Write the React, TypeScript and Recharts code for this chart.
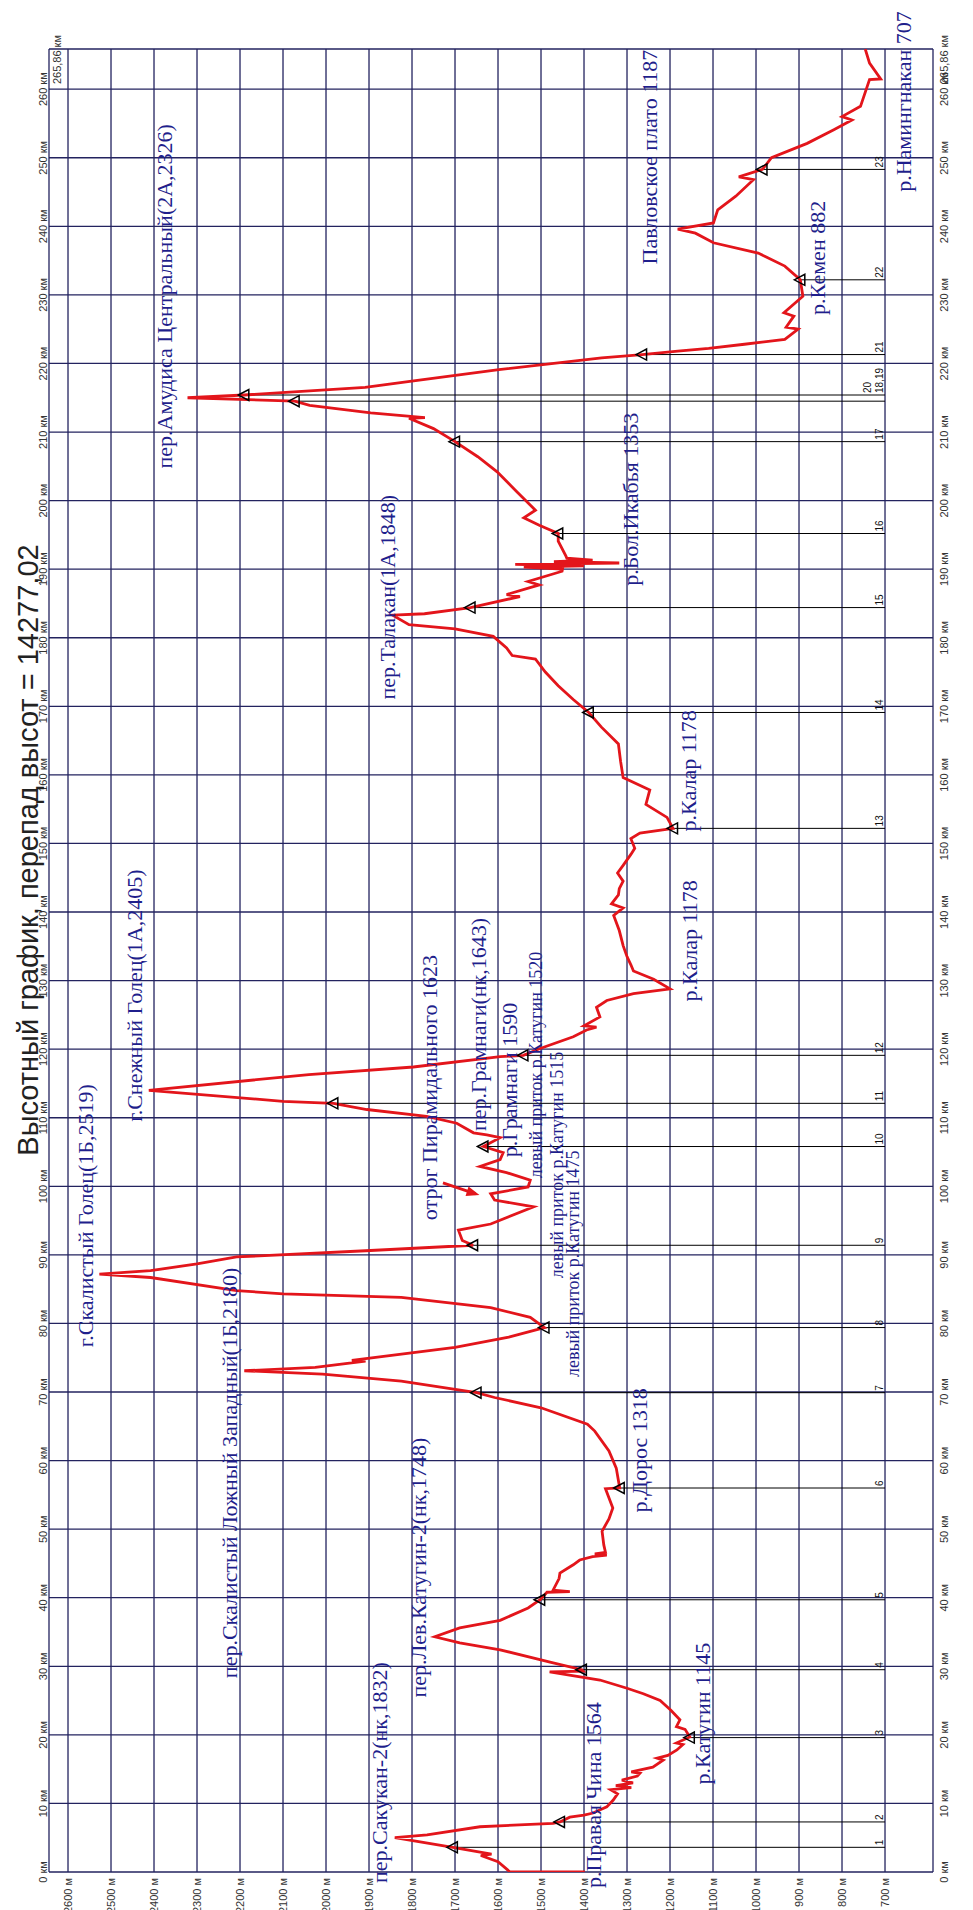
import React from 'react';
import {
  ComposedChart,
  Line,
  XAxis,
  YAxis,
  CartesianGrid,
  ReferenceLine,
  ReferenceDot,
} from 'recharts';

// track profile: [distance km, elevation m]
const profile: [number, number][] = [
  [0, 1398], [0, 1572], [1.5, 1600], [2.4, 1640], [2.6, 1615], [3.6, 1705], [5.0, 1840], [5.4, 1765],
  [6.6, 1642], [7.1, 1472], [7.3, 1456], [8.0, 1433], [8.3, 1400], [8.6, 1379], [9.5, 1347],
  [10.5, 1332], [11.4, 1322], [12.0, 1338], [12.3, 1290], [12.6, 1326], [13.0, 1286], [13.4, 1312],
  [14.0, 1276], [14.4, 1270], [14.6, 1290], [15.3, 1240], [16.3, 1216], [16.6, 1230], [17.0, 1205],
  [17.8, 1184], [18.6, 1170], [18.8, 1185], [19.7, 1154], [20.8, 1165], [21.2, 1185], [22.2, 1177],
  [23.6, 1198], [25.0, 1223], [26.0, 1262], [26.8, 1300], [28.0, 1363], [29.2, 1480], [29.3, 1402],
  [29.5, 1405], [30.6, 1479], [32.4, 1595], [33.4, 1689], [34.3, 1747], [35.6, 1689], [36.7, 1595],
  [38.5, 1530], [39.7, 1502], [40.8, 1486], [40.9, 1433], [41.1, 1472], [42.8, 1458], [43.6, 1456],
  [44.8, 1425], [45.5, 1410], [46.0, 1380], [46.2, 1347], [46.4, 1375], [46.6, 1350], [47.7, 1354],
  [49.7, 1358], [51.5, 1342], [53.1, 1333], [55.9, 1350], [56.0, 1317], [58.9, 1325], [61.4, 1342],
  [64.3, 1375], [65.3, 1392], [67.7, 1500], [69.2, 1608], [69.9, 1650], [71.6, 1825], [72.6, 2008],
  [73.1, 2190], [73.6, 2025], [74.5, 1908], [74.6, 1940], [76.5, 1700], [78.0, 1575], [79.4, 1492],
  [80.9, 1525], [82.3, 1617], [83.8, 1825], [84.3, 2100], [84.8, 2208], [86.7, 2408], [87.2, 2527],
  [87.7, 2408], [88.7, 2300], [89.7, 2208], [90.6, 1908], [91.4, 1658], [92.1, 1683], [93.6, 1692],
  [94.5, 1617], [97.0, 1517], [98.0, 1608], [98.9, 1617], [99.9, 1530], [100.9, 1525], [102.0, 1580],
  [102.9, 1642], [103.9, 1595], [104.9, 1588], [105.8, 1634], [107.1, 1595], [107.5, 1626],
  [107.8, 1657], [109.2, 1696], [110.2, 1766], [111.2, 1905], [112.1, 1983], [112.4, 2100],
  [114.0, 2412], [116.3, 2040], [117.4, 1797], [118.9, 1595], [119.1, 1541], [120.1, 1502],
  [121.8, 1425], [122.8, 1394], [123.2, 1371], [123.4, 1400], [124.7, 1363], [126.1, 1371],
  [127.1, 1347], [128.1, 1285], [128.8, 1200], [130.2, 1238], [131.4, 1285], [132.3, 1291],
  [133.5, 1300], [135.1, 1309], [137.3, 1318], [139.5, 1331], [140.6, 1309], [141.2, 1336],
  [142.5, 1320], [143.4, 1318], [144.5, 1309], [145.7, 1322], [146.8, 1309], [148.4, 1291],
  [149.3, 1282], [150.7, 1291], [151.5, 1270], [152.2, 1193], [153.8, 1207], [155.7, 1256],
  [157.8, 1247], [159.6, 1309], [162.0, 1315], [164.5, 1320], [167.0, 1360], [169.1, 1389],
  [171.0, 1425], [173.0, 1460], [175.0, 1490], [176.9, 1513], [177.4, 1567], [178.5, 1580],
  [180.2, 1611], [181.3, 1700], [181.9, 1807], [183.3, 1845], [183.5, 1771], [184.4, 1664],
  [186.0, 1549], [186.3, 1580], [187.7, 1504], [188.2, 1530], [189.7, 1451], [190.0, 1450],
  [190.3, 1540], [190.5, 1400], [190.7, 1560], [190.9, 1318], [191.1, 1470], [191.3, 1380],
  [191.6, 1440], [191.9, 1442], [194.1, 1460], [195.2, 1460], [196.4, 1504], [197.5, 1540],
  [198.6, 1513], [201.4, 1558], [204.2, 1602], [206.4, 1647], [208.6, 1700], [210.5, 1750],
  [212.0, 1807], [212.1, 1770], [212.8, 1896], [213.9, 2038], [214.5, 2073], [215.0, 2322],
  [215.4, 2190], [216.5, 1909], [217.4, 1805], [219.1, 1598], [220.8, 1359], [221.3, 1265],
  [221.8, 1182], [222.2, 1110], [222.8, 1027], [223.5, 933], [225.0, 902], [225.3, 930],
  [226.9, 912], [227.4, 935], [229.8, 891], [232.2, 897], [234.2, 933], [236.1, 995], [237.6, 1099],
  [239.0, 1141], [239.6, 1182], [240.5, 1099], [242.4, 1089], [244.4, 1047], [246.8, 1006],
  [247.2, 1040], [248.3, 985], [250.0, 964], [252.1, 881], [254.1, 819], [255.5, 777], [256.0, 800],
  [257.5, 757], [261.4, 736], [261.5, 710], [263.8, 736], [265.86, 746],
];

// checkpoints along the track
const checkpointNames = ['1', '2', '3', '4', '5', '6', '7', '8', '9', '10', '11', '12', '13', '14', '15', '16', '17', '18,19', '20', '21', '22', '23'];
const checkpointKm = [3.6, 7.3, 19.6, 29.5, 39.7, 56.0, 69.9, 79.4, 91.4, 105.8, 112.1, 119.1, 152.2, 169.1, 184.4, 195.2, 208.6, 214.5, 215.4, 221.3, 232.2, 248.3];
const checkpointElev = [1705, 1456, 1154, 1405, 1502, 1317, 1650, 1492, 1658, 1634, 1983, 1541, 1193, 1389, 1664, 1460, 1700, 2073, 2190, 1265, 897, 985];

// place names: [text, km, elevation]
const placeNotes: [string, number, number][] = [
  ['пер.Сакукан-2(нк,1832)', 14.5, 1857],
  ['р.Правая Чина 1564', 11.2, 1361],
  ['р.Катугин 1145', 23.1, 1106],
  ['пер.Лев.Катугин-2(нк,1748)', 44.4, 1767],
  ['р.Дорос 1318', 61.5, 1254],
  ['пер.Скалистый Ложный Западный(1Б,2180)', 58.2, 2208],
  ['г.Скалистый Голец(1Б,2519)', 95.7, 2543],
  ['г.Снежный Голец(1А,2405)', 127.8, 2428],
  ['отрог Пирамидального 1623', 114.4, 1743],
  ['пер.Грамнаги(нк,1643)', 123.6, 1629],
  ['р.Грамнаги 1590', 115.5, 1555],
  ['р.Калар 1178', 135.8, 1138],
  ['р.Калар 1178', 160.6, 1140],
  ['пер.Талакан(1А,1848)', 185.9, 1840],
  ['р.Бол.Икабья 1353', 200.2, 1275],
  ['пер.Амудиса Центральный(2А,2326)', 229.8, 2358],
  ['Павловское плато 1187', 250.1, 1230],
  ['р.Кемен 882', 235.4, 840],
  ['р.Намингнакан 707', 258.2, 640],
];

const tributaryNotes: [string, number, number][] = [
  ['левый приток р.Катугин 1520', 117.7, 1497],
  ['левый приток р.Катугин 1515', 103.1, 1450],
  ['левый приток р.Катугин 1475', 88.7, 1412],
];

// arrow from "отрог Пирамидального" to the track
const arrow: [number, number][] = [[100.5, 1728], [98.9, 1652]];

const distanceTicks = [0, 10, 20, 30, 40, 50, 60, 70, 80, 90, 100, 110, 120, 130, 140, 150, 160, 170, 180, 190, 200, 210, 220, 230, 240, 250, 260, 265.86];
const elevationTicks = [700, 800, 900, 1000, 1100, 1200, 1300, 1400, 1500, 1600, 1700, 1800, 1900, 2000, 2100, 2200, 2300, 2400, 2500, 2600];

const W = 1910;
const H = 973;
const GRID = '#23235f';
const NOTE = '#1f1f8c';
const RED = '#e3151b';
const SANS = "'Liberation Sans', Arial, sans-serif";
const SERIF = "'Liberation Serif', 'Times New Roman', serif";

const profileData = profile.map(([km, elev]) => ({ km, elev }));
const arrowData = arrow.map(([km, elev]) => ({ km, elev }));

function KmTick(props: any) {
  const { x, payload, side } = props;
  const v = payload.value as number;
  const last = v > 265;
  const label = last ? '265,86 км' : `${v} км`;
  const y = side === 'top' ? (last ? 61 : 47) : 948;
  return (
    <text x={last ? x + 14 : x} y={y} textAnchor={last ? 'end' : 'middle'} fontSize={11} fontFamily={SANS} fill="#333">
      {label}
    </text>
  );
}

function ElevTick(props: any) {
  const { y, payload } = props;
  return (
    <text x={32} y={y + 4} textAnchor="end" fontSize={11} fontFamily={SANS} fill="#333">
      {`${payload.value} м`}
    </text>
  );
}

const triangle = (p: any) => (
  <path
    d={`M${p.cx},${p.cy - 6} L${p.cx + 5.5},${p.cy + 4.5} L${p.cx - 5.5},${p.cy + 4.5} Z`}
    fill="none"
    stroke="#000"
    strokeWidth={1.5}
  />
);

const checkpointLabel = (text: string, lift: number) => (p: any) => (
  <text x={p.cx + 2} y={p.cy - 2 - lift} fontSize={10} fontFamily={SANS} fill="#111">
    {text}
  </text>
);

const noteLabel = (text: string, size: number) => (p: any) => (
  <text x={p.cx} y={p.cy} textAnchor="middle" fontSize={size} fontFamily={SERIF} fill={NOTE}>
    {text}
  </text>
);

const arrowHead = (p: any) => {
  const ux = -0.294;
  const uy = 0.956;
  const nx = 0.956;
  const ny = 0.294;
  const tx = p.cx + ux * 4;
  const ty = p.cy + uy * 4;
  const bx = tx - ux * 13;
  const by = ty - uy * 13;
  return <path d={`M${tx},${ty} L${bx + nx * 5},${by + ny * 5} L${bx - nx * 5},${by - ny * 5} Z`} fill={RED} />;
};

export default function App() {
  return (
    <div style={{ position: 'absolute', left: 0, top: 0, width: H, height: W, overflow: 'hidden', background: '#fff' }}>
      <div
        style={{
          position: 'absolute',
          left: 0,
          top: 0,
          width: W,
          height: H,
          transformOrigin: '0 0',
          transform: `translateY(${W}px) rotate(-90deg)`,
        }}
      >
        <ComposedChart width={W} height={H} margin={{ top: 19, right: 49, bottom: 10, left: 0 }}>
          <CartesianGrid stroke={GRID} strokeWidth={1.3} />
          <XAxis
            type="number"
            dataKey="km"
            domain={[0, 265.86]}
            ticks={distanceTicks}
            interval={0}
            allowDataOverflow
            axisLine={false}
            tickLine={false}
            height={30}
            tick={(p: any) => <KmTick {...p} side="bottom" />}
          />
          <XAxis
            xAxisId="top"
            orientation="top"
            type="number"
            dataKey="km"
            domain={[0, 265.86]}
            ticks={distanceTicks}
            interval={0}
            allowDataOverflow
            axisLine={false}
            tickLine={false}
            height={30}
            tick={(p: any) => <KmTick {...p} side="top" />}
          />
          <YAxis
            type="number"
            domain={[588.4, 2644.2]}
            ticks={elevationTicks}
            interval={0}
            allowDataOverflow
            axisLine={false}
            tickLine={false}
            width={38}
            tick={(p: any) => <ElevTick {...p} />}
          />
          {checkpointKm.map((km, i) => (
            <ReferenceLine
              key={`cp${i}`}
              segment={[{ x: km, y: checkpointElev[i] }, { x: km, y: 700 }]}
              stroke="#000"
              strokeWidth={1}
            />
          ))}
          <Line
            data={profileData}
            dataKey="elev"
            type="linear"
            stroke={RED}
            strokeWidth={2.8}
            dot={false}
            isAnimationActive={false}
          />
          <Line
            data={arrowData}
            dataKey="elev"
            type="linear"
            stroke={RED}
            strokeWidth={3}
            dot={false}
            isAnimationActive={false}
          />
          <ReferenceDot x={arrow[1][0]} y={arrow[1][1]} shape={arrowHead} ifOverflow="visible" />
          {checkpointKm.map((km, i) => (
            <ReferenceDot key={`tr${i}`} x={km} y={checkpointElev[i]} shape={triangle} ifOverflow="visible" />
          ))}
          {checkpointKm.map((km, i) => (
            <ReferenceDot
              key={`cl${i}`}
              x={checkpointNames[i] === '18,19' ? checkpointKm[i + 1] : km}
              y={700}
              shape={checkpointLabel(checkpointNames[i], checkpointNames[i] === '20' ? 12 : 0)}
              ifOverflow="visible"
            />
          ))}
          {placeNotes.map(([text, km, elev], i) => (
            <ReferenceDot key={`n${i}`} x={km} y={elev} shape={noteLabel(text, 22)} ifOverflow="visible" />
          ))}
          {tributaryNotes.map(([text, km, elev], i) => (
            <ReferenceDot key={`t${i}`} x={km} y={elev} shape={noteLabel(text, 18)} ifOverflow="visible" />
          ))}
        </ComposedChart>
        <svg width={W} height={H} style={{ position: 'absolute', left: 0, top: 0, pointerEvents: 'none' }}>
          <text x={1060} y={38} textAnchor="middle" fontSize={29} fontFamily={SANS} fill="#222">
            Высотный график, перепад высот = 14277,02
          </text>
        </svg>
      </div>
    </div>
  );
}
